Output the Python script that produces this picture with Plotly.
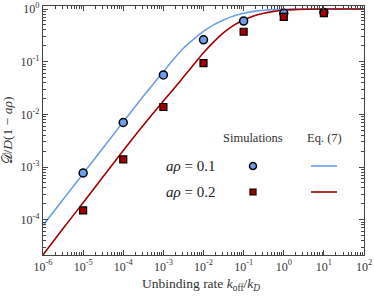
import plotly.graph_objects as go

# Simulation points
sim_x = [1e-5, 1e-4, 1e-3, 1e-2, 1e-1, 1e0, 1e1]
sim_01 = [7.7e-4, 7.0e-3, 0.056, 0.26, 0.59, 0.83, 0.86]
sim_02 = [1.5e-4, 1.4e-3, 0.0138, 0.094, 0.37, 0.71, 0.83]

# Eq. (7) curves (log10 of rate -> value)
eq_logx = [-6, -5.5, -5, -4.5, -4, -3.5, -3, -2.75, -2.5, -2.25, -2, -1.75, -1.5,
           -1.25, -1, -0.75, -0.5, -0.25, 0, 0.25, 0.5, 1, 2]
eq_01 = [7.8e-5, 2.42e-4, 7.45e-4, 2.33e-3, 7.2e-3, 0.022, 0.065, 0.11, 0.18, 0.265, 0.375,
         0.50, 0.62, 0.74, 0.83, 0.90, 0.95, 0.975, 0.99, 0.995, 0.998, 1.0, 1.0]
eq_02 = [2.15e-5, 6.8e-5, 2.1e-4, 6.6e-4, 2.05e-3, 6.2e-3, 0.018, 0.030, 0.051, 0.087,
         0.148, 0.235, 0.355, 0.49, 0.62, 0.735, 0.83, 0.90, 0.945, 0.972, 0.987, 0.997, 1.0]
eq_x = [10 ** v for v in eq_logx]

x_ticks = [1e-6, 1e-5, 1e-4, 1e-3, 1e-2, 1e-1, 1e0, 1e1, 1e2]
x_labels = ["10<sup>-6</sup>", "10<sup>-5</sup>", "10<sup>-4</sup>", "10<sup>-3</sup>", "10<sup>-2</sup>",
            "10<sup>-1</sup>", "10<sup>0</sup>", "10<sup>1</sup>", "10<sup>2</sup>"]
y_ticks = [1e-4, 1e-3, 1e-2, 1e-1, 1e0]
y_labels = ["10<sup>-4</sup>", "10<sup>-3</sup>", "10<sup>-2</sup>", "10<sup>-1</sup>", "10<sup>0</sup>"]

BLUE = "#6d9eeb"
RED = "#a00000"
FONT = "Liberation Serif"

fig = go.Figure()
fig.add_trace(go.Scatter(x=eq_x, y=eq_01, mode="lines", line=dict(color=BLUE, width=1.6, shape="spline", smoothing=1.0), showlegend=False))
fig.add_trace(go.Scatter(x=eq_x, y=eq_02, mode="lines", line=dict(color=RED, width=1.6, shape="spline", smoothing=1.0), showlegend=False))
fig.add_trace(go.Scatter(x=sim_x, y=sim_01, mode="markers",
                         marker=dict(symbol="circle", size=8, color=BLUE, line=dict(color="black", width=1.5)), showlegend=False))
fig.add_trace(go.Scatter(x=sim_x, y=sim_02, mode="markers",
                         marker=dict(symbol="square", size=7, color=RED, line=dict(color="black", width=1.2)), showlegend=False))

axis_common = dict(
    type="log", showgrid=False, zeroline=False, showline=True, linecolor="#444", linewidth=1.2,
    mirror="allticks", ticks="inside", ticklen=5, tickcolor="#444", tickwidth=1, automargin=False,
    tickfont=dict(family=FONT, size=12, color="#333"),
    minor=dict(ticks="inside", ticklen=2.5, tickcolor="#444", dtick="D1", showgrid=False),
)
fig.update_xaxes(**axis_common, range=[-6, 2], tickvals=x_ticks, ticktext=x_labels)
fig.update_yaxes(**axis_common, range=[-4.67, 0.057], tickvals=y_ticks, ticktext=y_labels,
                 title=dict(text="𝒟/<i>D</i>(1 − <i>aρ</i>)",
                            font=dict(family=FONT, size=13.5, color="#333"), standoff=4))

def px(xp):
    return (xp - 43) / 321.0

def py(yp):
    return (255 - yp) / 249.0

ann_font = dict(family=FONT, size=12.5, color="#333")
annotations = [
    dict(x=px(201), y=py(284), text="Unbinding rate <i>k</i><sub>off</sub>/<i>k</i><sub><i>D</i></sub>",
         font=dict(family=FONT, size=13.5, color="#333")),
    dict(x=px(253), y=py(138), text="Simulations", font=ann_font),
    dict(x=px(324), y=py(138), text="Eq. (7)", font=ann_font),
    dict(x=px(190), y=py(166), text="<i>aρ</i> = 0.1", font=dict(family=FONT, size=15, color="#222")),
    dict(x=px(190), y=py(192), text="<i>aρ</i> = 0.2", font=dict(family=FONT, size=15, color="#222")),
]
for a in annotations:
    a.update(xref="paper", yref="paper", showarrow=False, xanchor="center", yanchor="middle")

shapes = [
    dict(type="circle", xref="paper", yref="paper", x0=px(249.5), x1=px(256.5), y0=py(169.5), y1=py(162.5),
         fillcolor=BLUE, line=dict(color="black", width=1.5)),
    dict(type="rect", xref="paper", yref="paper", x0=px(250), x1=px(256), y0=py(195), y1=py(189),
         fillcolor=RED, line=dict(color="black", width=1.2)),
    dict(type="line", xref="paper", yref="paper", x0=px(311), x1=px(337), y0=py(166), y1=py(166),
         line=dict(color=BLUE, width=1.6)),
    dict(type="line", xref="paper", yref="paper", x0=px(311), x1=px(337), y0=py(192), y1=py(192),
         line=dict(color=RED, width=1.6)),
]

fig.update_layout(
    width=374, height=297,
    margin=dict(l=43, r=10, t=6, b=42),
    paper_bgcolor="white", plot_bgcolor="white",
    annotations=annotations, shapes=shapes,
    font=dict(family=FONT),
)
fig.write_html("out.html", config={"displayModeBar": False},
               post_script="document.body.style.margin='0';document.body.style.padding='0';document.body.style.overflow='hidden';")
